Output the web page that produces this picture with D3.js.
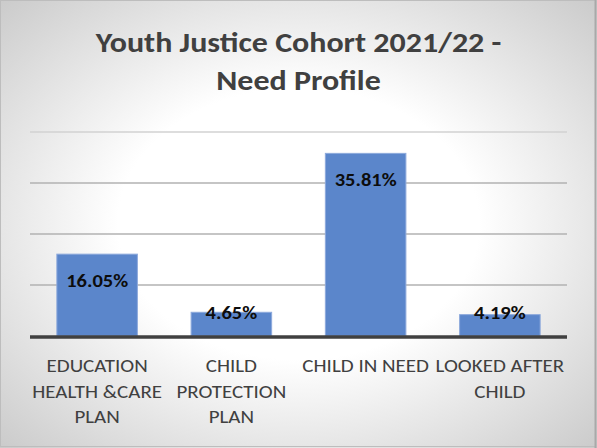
<!DOCTYPE html>
<html>
<head>
<meta charset="utf-8">
<script src="https://cdn.jsdelivr.net/npm/d3@7"></script>
<style>
  html, body { margin: 0; padding: 0; background: #fff; }
  svg { display: block; font-family: Calibri, Carlito, Lato, sans-serif; }
</style>
</head>
<body>
<svg id="chart" width="597" height="448"></svg>
<script>
'use strict';

const categories = [
  'EDUCATION HEALTH &CARE PLAN',
  'CHILD PROTECTION PLAN',
  'CHILD IN NEED',
  'LOOKED AFTER CHILD'
];
// how each category label wraps in the picture
const category_lines = [
  ['EDUCATION', 'HEALTH &CARE', 'PLAN'],
  ['CHILD', 'PROTECTION', 'PLAN'],
  ['CHILD IN NEED'],
  ['LOOKED AFTER', 'CHILD']
];
const values = [16.05, 4.65, 35.81, 4.19];
const grid_ticks = [10, 20, 30, 40];
const title_lines = ['Youth Justice Cohort 2021/22 -', 'Need Profile'];

const width = 597, height = 448;
const svg = d3.select('#chart');

// background gradient
const defs = svg.append('defs');
const grad = defs.append('radialGradient')
  .attr('id', 'bg')
  .attr('cx', 0.5).attr('cy', 0.5).attr('r', 0.72);
grad.append('stop').attr('offset', 0).attr('stop-color', '#ffffff');
grad.append('stop').attr('offset', 0.42).attr('stop-color', '#ffffff');
grad.append('stop').attr('offset', 1).attr('stop-color', '#c9c9c9');

svg.append('rect')
  .attr('width', width).attr('height', height)
  .attr('fill', 'url(#bg)');
// frame edges
svg.append('rect')
  .attr('x', 0.5).attr('y', 0.5)
  .attr('width', width - 2).attr('height', height - 2)
  .attr('fill', 'none').attr('stroke', '#bdbdbd');
svg.append('line')
  .attr('x1', width - 1.5).attr('x2', width - 1.5)
  .attr('y1', 0).attr('y2', height)
  .attr('stroke', '#a9a9a9').attr('stroke-width', 2);

const plot = { left: 30, right: 567, top: 132, bottom: 336 };

const x = d3.scaleBand()
  .domain(categories)
  .range([plot.left, plot.right])
  .paddingInner(0.4)
  .paddingOuter(0.2);

const y = d3.scaleLinear()
  .domain([0, 40])
  .range([plot.bottom, plot.top]);

// gridlines
svg.append('g')
  .selectAll('line')
  .data(grid_ticks)
  .join('line')
  .attr('x1', plot.left).attr('x2', plot.right)
  .attr('y1', d => y(d)).attr('y2', d => y(d))
  .attr('stroke', d => d === 40 ? '#d2d2d2' : '#b2b2b2')
  .attr('stroke-width', 1.5);

// bars
svg.append('g')
  .selectAll('rect')
  .data(values)
  .join('rect')
  .attr('x', (d, i) => x(categories[i]))
  .attr('y', d => y(d))
  .attr('width', x.bandwidth())
  .attr('height', d => y(0) - y(d))
  .attr('fill', '#5b86cb')
  .attr('stroke', '#8eaadc')
  .attr('stroke-width', 1);

// baseline axis
svg.append('line')
  .attr('x1', plot.left).attr('x2', plot.right)
  .attr('y1', y(0) + 1).attr('y2', y(0) + 1)
  .attr('stroke', '#404040')
  .attr('stroke-width', 3.5);

// text squashed a little vertically, the original font is wider than Lato
function place(sel, sx, sy) {
  sel.attr('transform', d => `translate(${sx(d)},${sy(d)}) scale(1,0.86)`);
}

// value labels (inside end, pushed up for short bars)
svg.append('g')
  .selectAll('text')
  .data(values)
  .join('text')
  .call(place,
        d => x(categories[values.indexOf(d)]) + x.bandwidth() / 2,
        d => Math.min(y(d) + 32.5, y(0) - 17))
  .attr('text-anchor', 'middle')
  .attr('font-weight', 'bold')
  .attr('font-size', 20.5)
  .attr('fill', '#0d0d0d')
  .text(d => d.toFixed(2) + '%');

// category labels
const cat_rows = categories.flatMap((c, i) =>
  category_lines[i].map((line, j) => ({ c, line, j })));
svg.append('g')
  .selectAll('text')
  .data(cat_rows)
  .join('text')
  .call(place, d => x(d.c) + x.bandwidth() / 2, d => 371.7 + d.j * 25.8)
  .attr('text-anchor', 'middle')
  .attr('font-size', 21)
  .attr('fill', '#404040')
  .text(d => d.line);

// title
svg.append('g')
  .selectAll('text')
  .data(title_lines)
  .join('text')
  .call(place, d => width / 2, d => 52.3 + title_lines.indexOf(d) * 37.8)
  .attr('text-anchor', 'middle')
  .attr('font-weight', 'bold')
  .attr('font-size', 32)
  .attr('fill', '#404040')
  .text(d => d);
</script>
</body>
</html>
